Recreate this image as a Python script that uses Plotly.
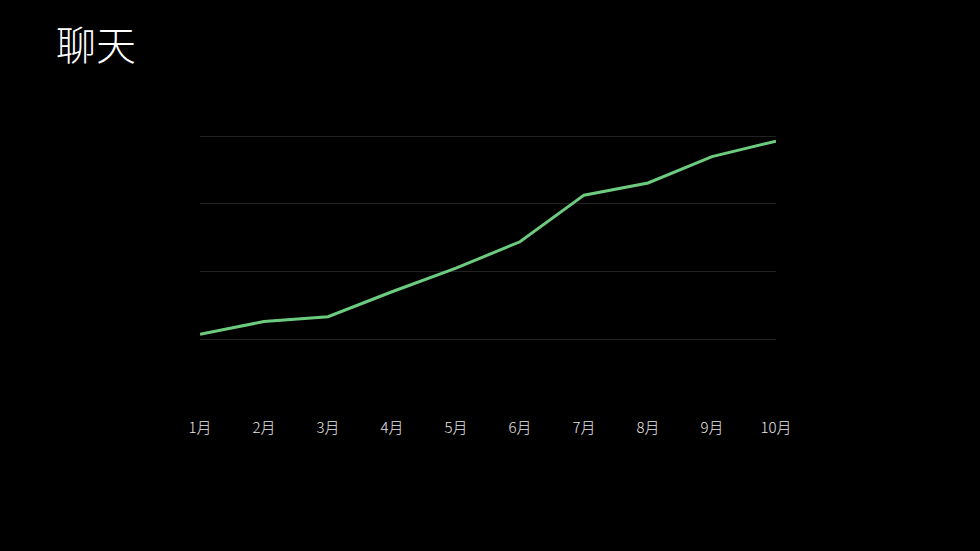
import plotly.graph_objects as go

months = ["1月", "2月", "3月", "4月", "5月", "6月", "7月", "8月", "9月", "10月"]
values = [7, 26, 33, 70, 105, 144, 213, 231, 270, 293]
grid_vals = [0, 100, 200, 300]
title_text = "聊天"

fig = go.Figure()
fig.add_trace(go.Scatter(
    x=list(range(len(months))), y=values, mode="lines",
    line=dict(color="#6CCB7E", width=3), cliponaxis=False, hoverinfo="skip"))

fig.update_layout(
    width=980, height=551,
    paper_bgcolor="#000000", plot_bgcolor="#000000",
    margin=dict(l=200, r=204, t=133, b=141),
    showlegend=False,
    font=dict(family="Noto Sans CJK SC", color="#E6E6E6"),
    xaxis=dict(range=[0, 9], tickvals=list(range(len(months))), ticktext=months,
               showgrid=False, zeroline=False, showline=False, ticks="",
               ticklabelstandoff=7,
               tickfont=dict(size=15, color="#E6E6E6", weight=300)),
    yaxis=dict(range=[-105, 305], tickvals=grid_vals, showticklabels=False,
               showgrid=True, gridcolor="#222222", gridwidth=1,
               zeroline=False, showline=False, ticks=""),
)
fig.add_annotation(text=title_text, xref="paper", yref="paper",
                   x=(54 - 200) / 576, y=1 + (133 - 43) / 277,
                   xanchor="left", yanchor="middle",
                   showarrow=False, font=dict(size=40, color="#FFFFFF",
                                              family="Noto Sans CJK SC", weight=300))
fig.write_html("out.html", config={"displayModeBar": False}, post_script=
               "document.body.style.margin='0';document.body.style.background='#000';")
